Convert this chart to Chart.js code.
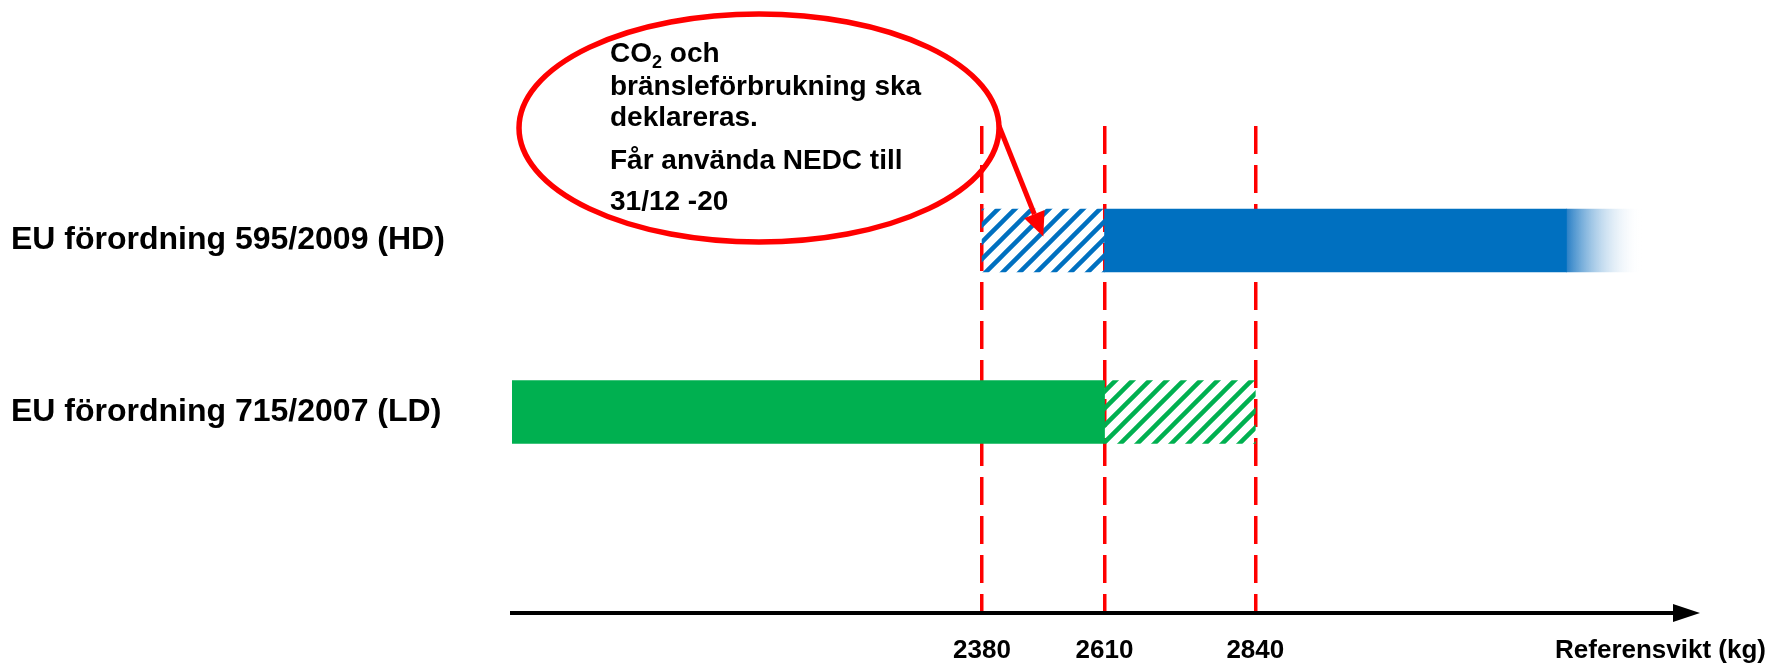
<!DOCTYPE html>
<html>
<head>
<meta charset="utf-8">
<script src="https://cdn.jsdelivr.net/npm/chart.js@4.4.1/dist/chart.umd.min.js"></script>
<style>
  html, body { margin: 0; padding: 0; background: #fff; }
  #wrap { width: 1768px; height: 664px; }
</style>
</head>
<body>
<div id="wrap"><canvas id="weightChart"></canvas></div>
<script>
// rader (förordningar)
const rows = ['EU förordning 595/2009 (HD)', 'EU förordning 715/2007 (LD)'];
// gränser på axeln, referensvikt i kg
const weightTicks = [2380, 2610, 2840];
// HD: övergång (streckad), heldragen, uttoning mot höger
const hdTransition = [2380, 2610];
const hdSolid = [2610, 3420];
const hdFade = [3420, 3560];
// LD: heldragen, utökat område (streckad)
const ldSolid = [1500, 2610];
const ldExtended = [2610, 2840];
// axelns ändar
const axisMin = 1500;
const axisMax = 3650;
// text i bubblan
const noteLines = ['CO2 och', 'bränsleförbrukning ska', 'deklareras.', 'Får använda NEDC till', '31/12 -20'];
const axisTitle = 'Referensvikt (kg)';

const BLUE = '#0070C0';
const GREEN = '#00B050';
const RED = '#FF0000';
const FONT = '"Liberation Sans", Arial, sans-serif';

Chart.defaults.font.family = FONT;

// axeln i originalet är inte skalenlig: varje gräns får sin egen plats
const axisKnots = [axisMin, ...weightTicks, axisMax];
const knotShare = [0, 0.399, 0.503, 0.631, 1];

function toShare(v) {
    for (let i = 1; i < axisKnots.length; i++) {
        if (v <= axisKnots[i] || i === axisKnots.length - 1) {
            const t = (v - axisKnots[i - 1]) / (axisKnots[i] - axisKnots[i - 1]);
            return knotShare[i - 1] + t * (knotShare[i] - knotShare[i - 1]);
        }
    }
}

function fromShare(s) {
    for (let i = 1; i < knotShare.length; i++) {
        if (s <= knotShare[i] || i === knotShare.length - 1) {
            const t = (s - knotShare[i - 1]) / (knotShare[i] - knotShare[i - 1]);
            return axisKnots[i - 1] + t * (axisKnots[i] - axisKnots[i - 1]);
        }
    }
}

class SchematicScale extends Chart.LinearScale {
    getPixelForValue(value) {
        if (value === null || value === undefined) return NaN;
        return this.getPixelForDecimal(toShare(value));
    }
    getValueForPixel(pixel) {
        return fromShare(this.getDecimalForPixel(pixel));
    }
}
SchematicScale.id = 'schematic';
SchematicScale.defaults = Chart.LinearScale.defaults;
Chart.register(SchematicScale);

// streckat mönster
function hatch(color) {
    const c = document.createElement('canvas');
    c.width = 17;
    c.height = 17;
    const g = c.getContext('2d');
    g.strokeStyle = color;
    g.lineWidth = 4.5;
    g.beginPath();
    g.moveTo(-4, 21); g.lineTo(21, -4);
    g.moveTo(-4, 4); g.lineTo(4, -4);
    g.moveTo(13, 21); g.lineTo(21, 13);
    g.stroke();
    return g.createPattern(c, 'repeat');
}

function fadeFill(context) {
    const chart = context.chart;
    if (!chart.chartArea) return BLUE;
    const x = chart.scales.x;
    const x0 = x.getPixelForValue(hdFade[0]);
    const x1 = x.getPixelForValue(hdFade[1]);
    const grad = chart.ctx.createLinearGradient(x0, 0, x1, 0);
    grad.addColorStop(0, '#2a80c6');
    grad.addColorStop(1, 'rgba(255,255,255,0)');
    return grad;
}

// bubbla, pil och axelns pilspets
const notePlugin = {
    id: 'note',
    afterDraw(chart) {
        const ctx = chart.ctx;
        const area = chart.chartArea;
        const xs = chart.scales.x;
        const ys = chart.scales.y;

        ctx.save();
        // pilspets på x-axeln
        const ay = area.bottom;
        ctx.fillStyle = '#000';
        ctx.beginPath();
        ctx.moveTo(area.right + 10, ay);
        ctx.lineTo(area.right - 17, ay - 9);
        ctx.lineTo(area.right - 17, ay + 9);
        ctx.closePath();
        ctx.fill();

        // axeltitel på samma rad som siffrorna
        ctx.font = 'bold 26px ' + FONT;
        ctx.textAlign = 'right';
        ctx.textBaseline = 'middle';
        ctx.fillText(axisTitle, chart.width - 2, xs.top + 22 + 15.6);

        // ellips
        const cx = 759, cy = 128, rx = 240, ry = 114;
        ctx.strokeStyle = RED;
        ctx.lineWidth = 5.5;
        ctx.beginPath();
        ctx.ellipse(cx, cy, rx, ry, 0, 0, Math.PI * 2);
        ctx.stroke();

        // pil till övergångsområdet
        const sx = cx + rx * Math.cos(-0.02);
        const sy = cy + ry * Math.sin(-0.02);
        const tx = xs.getPixelForValue((hdTransition[0] + hdTransition[1]) / 2);
        const ty = ys.getPixelForValue(0) - 4;
        const ang = Math.atan2(ty - sy, tx - sx);
        const headLen = 24, headHalf = 11;
        const bx = tx - headLen * Math.cos(ang);
        const by = ty - headLen * Math.sin(ang);
        ctx.lineWidth = 5;
        ctx.beginPath();
        ctx.moveTo(sx, sy);
        ctx.lineTo(bx, by);
        ctx.stroke();
        ctx.fillStyle = RED;
        ctx.beginPath();
        ctx.moveTo(tx, ty);
        ctx.lineTo(bx + headHalf * Math.sin(ang), by - headHalf * Math.cos(ang));
        ctx.lineTo(bx - headHalf * Math.sin(ang), by + headHalf * Math.cos(ang));
        ctx.closePath();
        ctx.fill();

        // text i bubblan
        const baselines = [62, 95, 126, 169, 210];
        ctx.fillStyle = '#000';
        ctx.textAlign = 'left';
        ctx.textBaseline = 'alphabetic';
        noteLines.forEach((line, i) => {
            let x = 610;
            const y = baselines[i];
            ctx.font = 'bold 28px ' + FONT;
            if (line.startsWith('CO2')) {
                ctx.fillText('CO', x, y);
                x += ctx.measureText('CO').width;
                ctx.font = 'bold 18px ' + FONT;
                ctx.fillText('2', x, y + 6);
                x += ctx.measureText('2').width;
                ctx.font = 'bold 28px ' + FONT;
                ctx.fillText(line.slice(3), x, y);
            } else {
                ctx.fillText(line, x, y);
            }
        });
        ctx.restore();
    }
};

const barStyle = { grouped: false, barThickness: 63, borderWidth: 0 };

new Chart(document.getElementById('weightChart').getContext('2d'), {
    type: 'bar',
    data: {
        datasets: [
            { ...barStyle, label: 'HD övergång', data: [{ y: 0, x: hdTransition }], backgroundColor: hatch(BLUE) },
            { ...barStyle, label: 'HD', data: [{ y: 0, x: hdSolid }], backgroundColor: BLUE },
            { ...barStyle, label: 'HD uttoning', data: [{ y: 0, x: hdFade }], backgroundColor: fadeFill },
            { ...barStyle, label: 'LD', data: [{ y: 1, x: ldSolid }], backgroundColor: GREEN },
            { ...barStyle, label: 'LD utökat', data: [{ y: 1, x: ldExtended }], backgroundColor: hatch(GREEN) }
        ]
    },
    options: {
        indexAxis: 'y',
        responsive: true,
        maintainAspectRatio: false,
        animation: false,
        layout: { padding: { left: 11, right: 78, top: 126, bottom: 0 } },
        plugins: {
            legend: { display: false },
            tooltip: { enabled: false }
        },
        scales: {
            x: {
                type: 'schematic',
                position: 'bottom',
                min: axisMin,
                max: axisMax,
                z: 1,
                afterBuildTicks: s => { s.ticks = weightTicks.map(v => ({ value: v })); },
                afterFit: s => { s.height = 51; },
                grid: { color: RED, lineWidth: 3.5, drawTicks: false },
                border: { color: '#000', width: 4, dash: [28, 11] },
                ticks: {
                    color: '#000',
                    font: { size: 26, weight: 'bold' },
                    padding: 22,
                    maxRotation: 0,
                    autoSkip: false,
                    callback: v => String(v)
                }
            },
            y: {
                type: 'linear',
                offset: false,
                reverse: true,
                min: -0.6675,
                max: 2.172,
                afterBuildTicks: s => { s.ticks = rows.map((r, i) => ({ value: i })); },
                afterFit: s => { s.width = 501; },
                grid: { display: false },
                border: { display: false },
                ticks: {
                    color: '#000',
                    crossAlign: 'far',
                    font: { size: 32, weight: 'bold' },
                    callback: v => rows[v]
                }
            }
        }
    },
    plugins: [notePlugin]
});
</script>
</body>
</html>
